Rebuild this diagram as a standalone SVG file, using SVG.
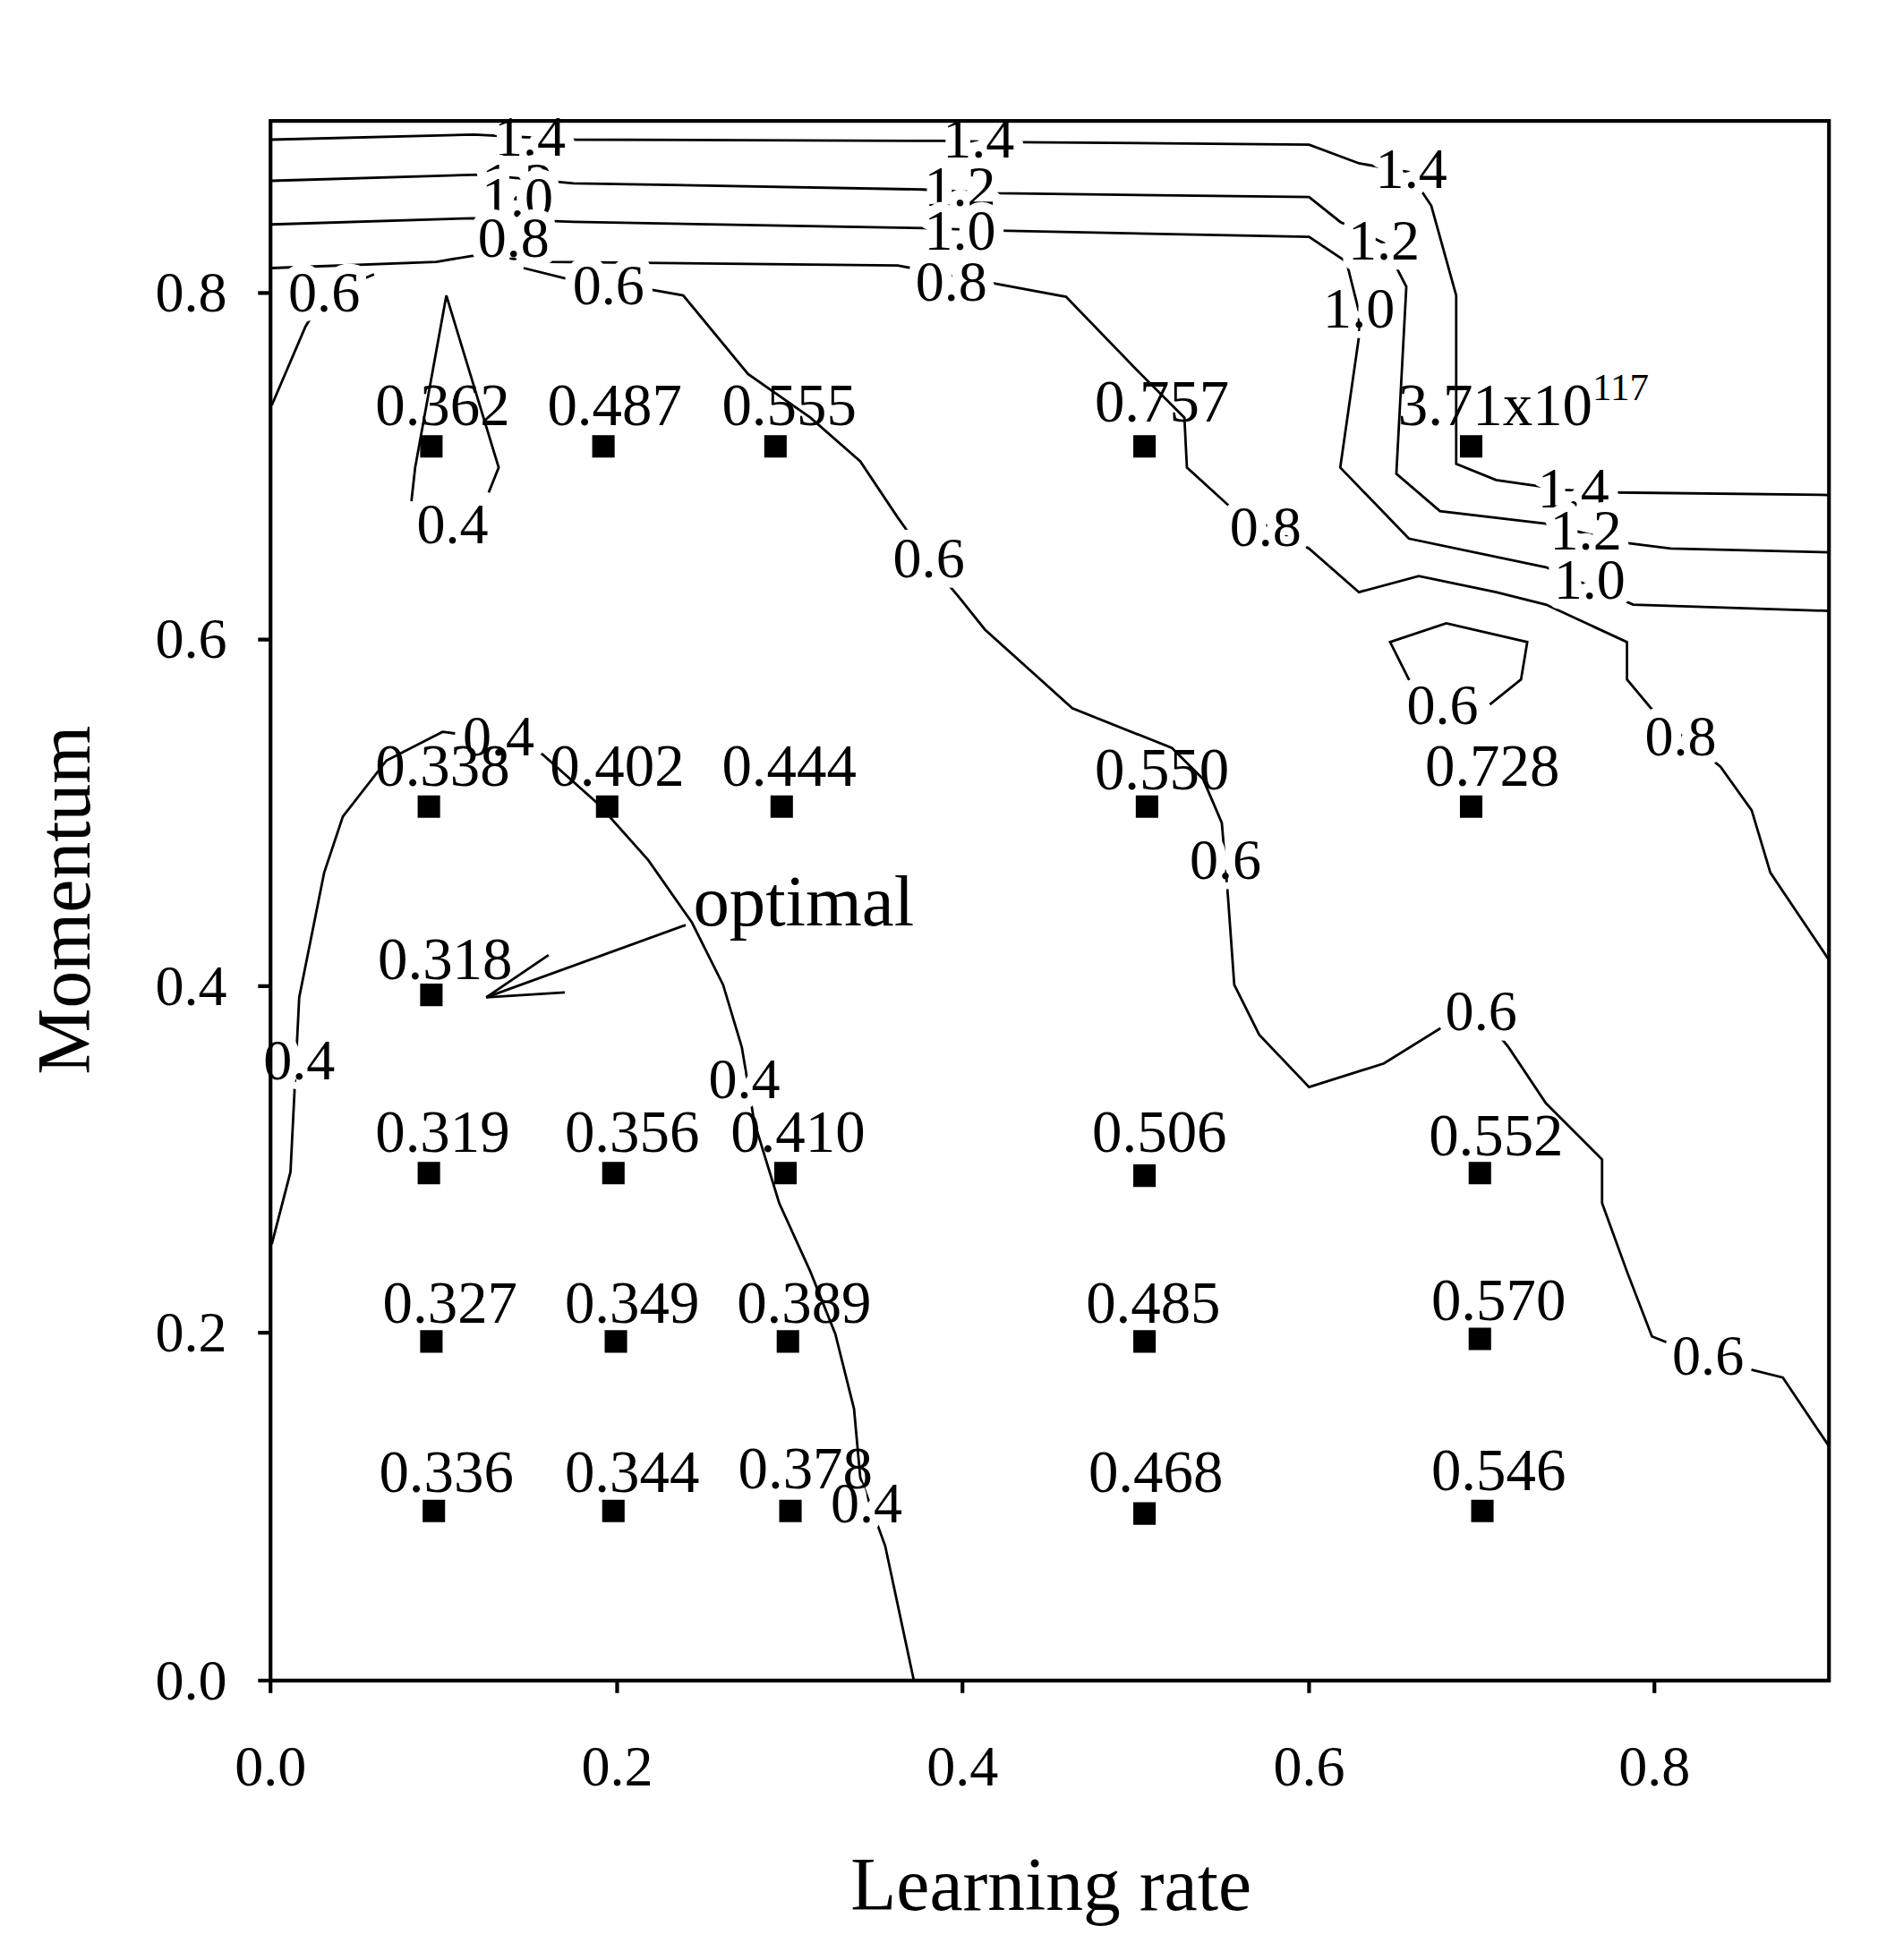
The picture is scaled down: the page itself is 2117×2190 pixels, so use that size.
<svg xmlns="http://www.w3.org/2000/svg" width="2117" height="2190" viewBox="0 0 2117 2190">
<style>
.t{font-family:"Liberation Serif","Times New Roman",serif;fill:#000}
.c{fill:none;stroke:#000;stroke-width:2}
.cl{font-family:"Liberation Serif",serif;font-size:46px;text-anchor:middle;paint-order:stroke;stroke:#fff;stroke-width:16px;stroke-linejoin:round;fill:#000}
.d{font-family:"Liberation Serif",serif;font-size:48px;text-anchor:middle;fill:#000}
.tk{font-family:"Liberation Serif",serif;font-size:46px;fill:#000}
</style>
<rect width="2117" height="2190" fill="#fff"/>
<g transform="scale(1.3928,1.393)">
<g id="connectors">
<polyline class="c" points="218,112 380,108 460,112 755,113 815,114 1050,116 1090,131 1130,138 1148,165 1168,237 1168,372 1200,385 1255,393 1295,395 1467,397"/>
<polyline class="c" points="218,145 385,140 460,147 740,152 800,155 1050,158 1075,178 1110,195 1128,230 1120,380 1155,410 1240,420 1300,435 1340,440 1467,443"/>
<polyline class="c" points="218,180 380,175 460,178 740,183 800,185 1050,190 1080,210 1090,250 1090,270 1075,375 1130,432 1240,455 1310,485 1467,490"/>
<polyline class="c" points="218,215 350,210 380,205 440,210 720,213 855,238 915,300 950,335 952,375 985,405 1050,440 1090,475 1138,462 1200,475 1240,485 1305,515 1305,545 1330,575 1380,615 1405,650 1420,700 1467,770"/>
<polyline class="c" points="218,325 245,262 260,237 300,220"/>
<polyline class="c" points="420,215 460,225 520,232 548,237 600,300 650,335 690,370 720,415 745,450 770,480 790,505 860,568 940,600 965,625 980,660 985,720 990,790 1010,830 1050,872 1110,853 1155,825 1188,813 1210,840 1240,885 1285,930 1285,965 1305,1020 1325,1072 1370,1090 1430,1105 1467,1160"/>
<polyline class="c" points="1195,565 1220,545 1225,515 1160,500 1115,515 1130,545 1150,560"/>
<polyline class="c" points="330,402 333,375 358,237 400,375 392,395"/>
<polyline class="c" points="218,998 233,940 240,800 260,700 275,655 310,610 355,587 400,593 435,605 480,645 520,690 555,740 580,790 595,840 605,900 625,965 650,1020 670,1070 685,1130 690,1185 710,1240 733,1348"/>
<line class="c" x1="550" y1="742" x2="390" y2="800"/>
<line class="c" x1="390" y1="800" x2="440" y2="766"/>
<line class="c" x1="390" y1="800" x2="453" y2="796"/>
</g>
<g id="contour-labels">
<text class="cl" x="425" y="125">1.4</text><text class="cl" x="785" y="126">1.4</text><text class="cl" x="1132" y="151">1.4</text><text class="cl" x="1262" y="407">1.4</text>
<text class="cl" x="415" y="162">1.2</text><text class="cl" x="770" y="165">1.2</text><text class="cl" x="1110" y="208">1.2</text><text class="cl" x="1272" y="441">1.2</text>
<text class="cl" x="415" y="174">1.0</text><text class="cl" x="770" y="200">1.0</text><text class="cl" x="1090" y="263">1.0</text><text class="cl" x="1275" y="480">1.0</text>
<text class="cl" x="412" y="206">0.8</text><text class="cl" x="763" y="241">0.8</text><text class="cl" x="1015" y="438">0.8</text><text class="cl" x="1348" y="606">0.8</text>
<text class="cl" x="260" y="250">0.6</text><text class="cl" x="488" y="244">0.6</text><text class="cl" x="745" y="463">0.6</text><text class="cl" x="983" y="705">0.6</text><text class="cl" x="1188" y="826">0.6</text><text class="cl" x="1370" y="1103">0.6</text><text class="cl" x="1157" y="581">0.6</text>
<text class="cl" x="363" y="436">0.4</text><text class="cl" x="400" y="606">0.4</text><text class="cl" x="240" y="866">0.4</text><text class="cl" x="597" y="881">0.4</text><text class="cl" x="695" y="1221">0.4</text>
</g>
<g id="frame">
<rect x="217" y="97" width="1250" height="1251" fill="none" stroke="#000" stroke-width="3"/>
<path d="M207,235H217M207,513H217M207,791H217M207,1069H217M207,1348H217M217,1348V1358M495,1348V1358M772,1348V1358M1050,1348V1358M1327,1348V1358" stroke="#000" stroke-width="3"/>
<g class="tk" text-anchor="end"><text x="182" y="250">0.8</text><text x="182" y="528">0.6</text><text x="182" y="806">0.4</text><text x="182" y="1084">0.2</text><text x="182" y="1363">0.0</text></g>
<g class="tk" text-anchor="middle"><text x="217" y="1432">0.0</text><text x="495" y="1432">0.2</text><text x="772" y="1432">0.4</text><text x="1050" y="1432">0.6</text><text x="1327" y="1432">0.8</text></g>
<text class="t" x="843" y="1532" font-size="60" text-anchor="middle">Learning rate</text>
<text class="t" transform="translate(72,722) rotate(-90)" font-size="60" text-anchor="middle">Momentum</text>
<text class="t" x="556" y="742" font-size="58">optimal</text>
</g>
<g id="points">
<path fill="#000" d="M337,349h18v18h-18zM475,349h18v18h-18zM613,349h18v18h-18zM909,349h18v18h-18zM1171,349h18v18h-18zM335,638h18v18h-18zM478,638h18v18h-18zM618,638h18v18h-18zM911,638h18v18h-18zM1171,638h18v18h-18zM337,789h18v18h-18zM335,932h18v18h-18zM483,932h18v18h-18zM621,932h18v18h-18zM909,934h18v18h-18zM1178,932h18v18h-18zM337,1067h18v18h-18zM485,1067h18v18h-18zM623,1067h18v18h-18zM909,1067h18v18h-18zM1178,1065h18v18h-18zM339,1203h18v18h-18zM483,1203h18v18h-18zM625,1203h18v18h-18zM909,1205h18v18h-18zM1180,1203h18v18h-18z"/>
<text class="d" x="355" y="341">0.362</text><text class="d" x="493" y="341">0.487</text><text class="d" x="633" y="341">0.555</text><text class="d" x="932" y="338">0.757</text>
<text class="d" x="1222" y="341">3.71x10<tspan font-size="31" dy="-20">117</tspan></text>
<text class="d" x="355" y="630">0.338</text><text class="d" x="495" y="630">0.402</text><text class="d" x="633" y="630">0.444</text><text class="d" x="932" y="633">0.550</text><text class="d" x="1197" y="630">0.728</text>
<text class="d" x="357" y="785">0.318</text>
<text class="d" x="355" y="924">0.319</text><text class="d" x="507" y="924">0.356</text><text class="d" x="640" y="924">0.410</text><text class="d" x="930" y="924">0.506</text><text class="d" x="1200" y="927">0.552</text>
<text class="d" x="361" y="1061">0.327</text><text class="d" x="507" y="1061">0.349</text><text class="d" x="645" y="1061">0.389</text><text class="d" x="925" y="1061">0.485</text><text class="d" x="1202" y="1059">0.570</text>
<text class="d" x="358" y="1197">0.336</text><text class="d" x="507" y="1197">0.344</text><text class="d" x="646" y="1194">0.378</text><text class="d" x="927" y="1197">0.468</text><text class="d" x="1202" y="1195">0.546</text>
</g>
</g>
</svg>
